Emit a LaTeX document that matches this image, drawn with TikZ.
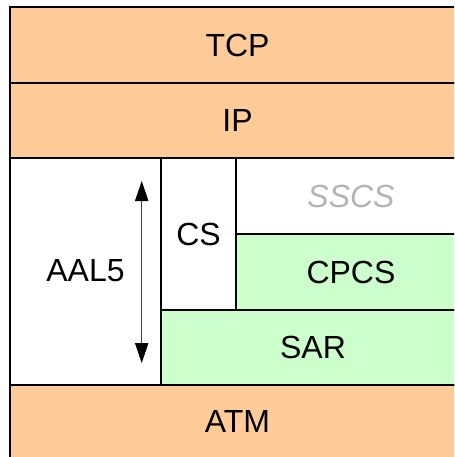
\documentclass[tikz,border=0pt]{standalone}
\usepackage{fontspec}
\setmainfont{Liberation Sans}
\usetikzlibrary{arrows.meta}
\definecolor{layerorange}{HTML}{FFCC99}
\definecolor{layergreen}{HTML}{CCFFCC}
\definecolor{sscsgray}{HTML}{B4B4B4}
\begin{document}
\begin{tikzpicture}[x=0.75pt,y=-0.75pt,
  layer/.style={draw=black,line width=0.8pt},
  lbl/.style={font=\fontsize{24pt}{28pt}\selectfont,inner sep=0pt},
  dblarrow/.style={{Triangle[length=15pt,width=10pt,color=black,fill=black]}-{Triangle[length=15pt,width=10pt,color=black,fill=black]},line width=0.7pt,draw=black!75}]
\useasboundingbox (0,0) rectangle (454,457);
\clip (0,0) rectangle (454,457);
% layers
\draw[layer,fill=layerorange] (10,7) rectangle (466,83);
\draw[layer,fill=layerorange] (10,83) rectangle (466,158);
\draw[layer,fill=white] (10,158) rectangle (466,385);
\draw[layer,fill=layerorange] (10,385) rectangle (466,459);
\draw[layer,fill=white] (10,158) rectangle (161,385);
\draw[layer,fill=layergreen] (161,310) rectangle (466,385);
\draw[layer,fill=white] (161,158) rectangle (236,310);
\draw[layer,fill=layergreen] (236,234) rectangle (466,310);
% labels
\node[lbl] (tcp) at (237.5,45) {TCP};
\node[lbl] (ip) at (237.5,120.5) {IP};
\node[lbl] (aal) at (85.5,271) {AAL5};
\node[lbl] (cs) at (198.5,234) {CS};
\node[lbl,text=sscsgray,font=\fontsize{24pt}{28pt}\selectfont\itshape] (sscs) at (351,196) {SSCS};
\node[lbl] (cpcs) at (351,272) {CPCS};
\node[lbl] (sar) at (313,347.5) {SAR};
\node[lbl] (atm) at (237.5,421) {ATM};
% arrow
\coordinate (atop) at (141.7,181);
\coordinate (abot) at (141.7,363);
\draw[dblarrow] (atop) -- (abot);
\end{tikzpicture}
\end{document}
